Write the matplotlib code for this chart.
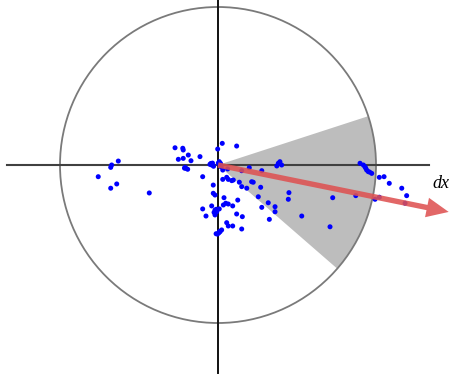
import numpy as np
import matplotlib
matplotlib.use("Agg")
import matplotlib.pyplot as plt
from matplotlib.patches import Circle, Wedge, FancyArrow

# Sample points (unit circle coordinates)
pts_x = [-0.673, -0.679, -0.631, -0.758, -0.641, -0.679, -0.435,
         -0.220, -0.223, -0.272, -0.188, -0.251, -0.220, -0.171, -0.114,
         -0.203, -0.192, -0.209, 0.027, 0.118, -0.002,
         -0.051, -0.040, 0.008, 0.013, -0.045, 0.002, -0.097, -0.030, -0.030,
         -0.019, 0.038, 0.125, 0.049, 0.065, 0.093, -0.040, -0.097, -0.019,
         -0.008, 0.008, 0.118, 0.154, -0.076, -0.019, 0.055, 0.065, 0.093,
         0.150, 0.023, 0.013, -0.004, 0.005, 0.030, 0.061, 0.030, 0.055, 0.065,
         0.087, 0.135, 0.150, 0.223, 0.182, 0.255, 0.382, 0.392, 0.403,
         0.372, 0.899, 0.930, 0.941, 0.951, 0.973, 0.920, 1.021, 1.051,
         1.084, 1.163, 1.194, 1.184, 1.021, 0.994, 0.872, 0.726, 0.709,
         0.150, 0.198, 0.277, 0.213, 0.270, 0.449, 0.445, 0.318, 0.361,
         0.277, 0.361, 0.530, 0.325, 0.034, 0.097,
         -0.035, -0.028, 0.016, 0.020, 0.935, 0.960, -0.010, 0.010, -0.025, -0.012,
         -0.212, 0.387]
pts_y = [0.000, -0.015, 0.025, -0.074, -0.120, -0.147, -0.177,
         0.095, 0.106, 0.109, 0.063, 0.036, 0.042, 0.027, 0.053,
         -0.021, -0.027, -0.015, 0.137, 0.120, 0.101,
         0.004, 0.000, 0.021, 0.000, 0.010, 0.012, -0.074, -0.127, -0.179,
         -0.190, -0.207, -0.222, -0.242, -0.247, -0.259, -0.259, -0.278, -0.285,
         -0.296, -0.278, -0.310, -0.327, -0.323, -0.316, -0.365, -0.386, -0.386,
         -0.405, -0.411, -0.422, -0.437, -0.430, -0.032, -0.025, -0.091, -0.078, -0.091,
         -0.099, -0.109, -0.137, -0.109, -0.147, -0.201, 0.011, 0.021, 0.000,
         -0.006, 0.011, -0.011, -0.032, -0.042, -0.053, 0.000, -0.078, -0.074,
         -0.116, -0.147, -0.194, -0.242, -0.204, -0.217, -0.194, -0.207, -0.391,
         -0.036, -0.017, -0.036, -0.106, -0.141, -0.175, -0.217, -0.239, -0.264,
         -0.268, -0.296, -0.323, -0.344, -0.253, -0.095,
         0.012, -0.008, 0.010, -0.012, -0.020, -0.045, -0.280, -0.420, -0.300, -0.435,
         -0.020, 0.012]

wedge_deg = [-41.0, 18.0]
arrow_angle_deg = -11.5
arrow_len = 1.49

W, H = 454, 377
fig = plt.figure(figsize=(W / 100, H / 100), dpi=100)
ax = fig.add_axes([0, 0, 1, 1])
ax.set_xlim((0 - 218) / 158, (W - 218) / 158)
ax.set_ylim((165 - H) / 158, 165 / 158)
ax.set_aspect('equal')
ax.axis('off')

ax.add_patch(Wedge((0, 0), 1.0, wedge_deg[0], wedge_deg[1],
                   facecolor='#bdbdbd', edgecolor='none', zorder=1))
ax.add_patch(Circle((0, 0), 1.0, fill=False, edgecolor='#7a7a7a', lw=1.3, zorder=2))
ax.plot([-1.335, 1.335], [0, 0], color='#404040', lw=1.5, zorder=3)
ax.plot([0, 0], [-1.316, 1.05], color='#111111', lw=1.4, zorder=3)

ax.scatter(pts_x, pts_y, s=13, color='#0000ff', edgecolors='none', zorder=4)

a = np.deg2rad(arrow_angle_deg)
ax.add_patch(FancyArrow(0, 0, arrow_len * np.cos(a), arrow_len * np.sin(a),
                        width=0.034, head_width=0.125, head_length=0.14,
                        length_includes_head=True, color='#de5252',
                        alpha=0.88, lw=0, zorder=5))

ax.text(1.411, -0.114, 'dx', fontsize=13, style='italic',
        family='Liberation Serif', ha='center', va='center', zorder=6)

fig.savefig('out.png', dpi=100)
